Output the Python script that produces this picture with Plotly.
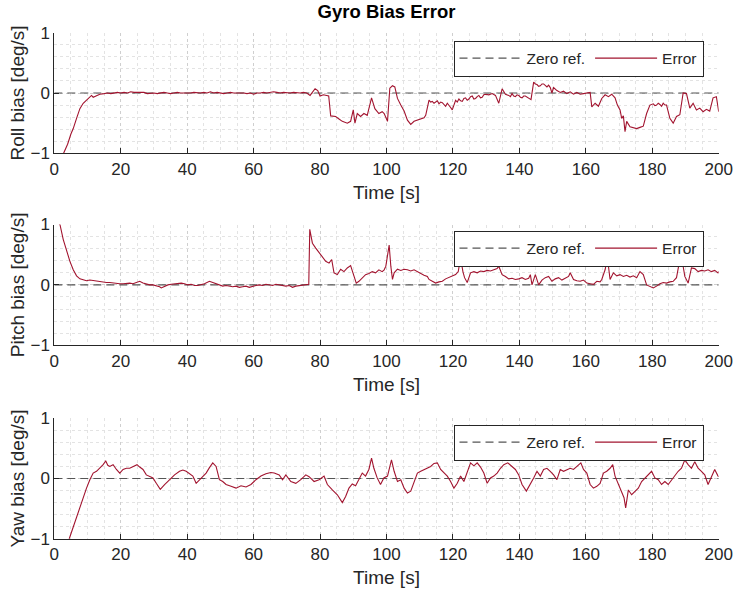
import plotly.graph_objects as go

# ---------------- data ----------------
t_roll = [0, 1, 2, 2.8, 4, 5, 5.7, 6.7, 7.7, 8.7, 9.7, 10.7, 11.2, 11.7, 12.7, 13.7, 15, 16, 17, 18, 19,
          20, 21, 22, 23, 24, 25, 26, 27, 28, 29, 30, 31, 32, 33, 34, 35, 36, 37, 38, 39,
          40, 41, 42, 43, 44, 45, 46, 47, 48, 49, 50, 51, 52, 53, 54, 55, 56, 57, 58, 59,
          60, 61, 62, 63, 64, 65, 66, 67, 68, 69, 70, 71, 72, 73, 74, 75, 76, 77, 77.6, 78.5, 79.3,
          80, 81, 82, 82.6, 83.2, 84.7, 85.7, 86.7, 88.2, 89.2, 90, 90.5, 91.2, 92.2, 93.2, 94.2, 95.5,
          96.5, 97.7, 98.7, 99.3, 100.3, 101, 101.8, 102.5, 103.3, 104.3, 105.3, 106.3, 107.3, 108.3,
          109.3, 110.3, 111.3, 111.8, 112.8, 113.3, 113.8, 114.3, 114.8, 115.3, 115.8, 116.3, 116.8,
          117.3, 117.8, 118.3, 118.8, 119.3, 119.8, 120.3, 120.8, 121.3, 121.8, 122.3, 122.8, 123.3,
          123.8, 124.3, 124.8, 125.3, 125.8, 126.3, 126.8, 127.3, 127.8, 128.3, 128.8, 129.3, 129.8,
          130.8, 131.8, 132.8, 133.8, 134.8, 135.8, 136.8, 137.3, 137.8, 138.3, 138.8, 139.3, 139.8,
          140.3, 140.8, 141.3, 141.8, 142.3, 142.8, 143.5, 144.3, 144.8, 145.3, 145.8, 146.3, 146.8,
          147.3, 147.8, 148.3, 148.8, 149.3, 149.8, 150.3, 151.3, 152.3, 153.3, 154.3, 155.3, 156.3,
          157.3, 158.3, 159.3, 160.3, 161.3, 161.8, 162.8, 163.8, 164.8, 165.8, 166.8, 167.8, 168.8,
          169.5, 170.3, 170.8, 171.3, 171.8, 172.3, 173.3, 174.3, 175.3, 176.3, 177.3, 178.3, 179.3,
          180.3, 180.8, 181.3, 181.8, 182.3, 182.8, 183.3, 183.8, 184.3, 185.3, 186.3, 187.3, 188.3,
          189.3, 190.3, 191.3, 192.3, 193.3, 194.3, 195.3, 196.3, 197.3, 198.3, 199.3, 200]
roll = [-1.6, -1.4, -1.15, -1.0, -0.85, -0.68, -0.59, -0.42, -0.26, -0.17, -0.12, -0.07, -0.04, -0.07, -0.04, -0.02, -0.01, 0.0, -0.01, 0.0, 0.01,
        0.0, 0.01, 0.0, 0.02, 0.01, 0.01, 0.0, 0.01, -0.01, 0.0, 0.0, -0.01, 0.0, 0.01, 0.0, -0.01, 0.0, 0.01, 0.0, 0.0,
        -0.01, 0.0, 0.01, 0.0, 0.0, 0.01, 0.0, 0.02, 0.0, 0.01, 0.0, -0.01, 0.0, 0.01, 0.0, 0.0, 0.01, 0.0, -0.01, 0.0,
        -0.02, 0.0, 0.0, 0.01, 0.0, 0.01, 0.02, 0.01, 0.0, 0.01, 0.0, 0.0, 0.01, 0.0, 0.0, 0.01, 0.0, -0.04, 0.0, 0.07, 0.04,
        -0.05, -0.03, -0.04, -0.05, -0.38, -0.39, -0.43, -0.47, -0.5, -0.47, -0.28, -0.5, -0.34, -0.39, -0.34, -0.37, -0.08,
        -0.26, -0.34, -0.31, -0.34, -0.47, 0.08, 0.12, 0.1, -0.09, -0.2, -0.3, -0.45, -0.52, -0.47,
        -0.45, -0.43, -0.41, -0.37, -0.12, -0.15, -0.14, -0.17, -0.15, -0.13, -0.18, -0.15, -0.16,
        -0.2, -0.22, -0.17, -0.2, -0.24, -0.28, -0.2, -0.12, -0.15, -0.1, -0.13, -0.14, -0.09,
        -0.08, -0.12, -0.1, -0.06, -0.05, -0.1, -0.09, -0.06, -0.04, -0.08, -0.07, -0.03, -0.02,
        -0.03, -0.01, -0.04, -0.17, 0.07, -0.02, -0.04, -0.06, -0.01, -0.05, -0.06, -0.03, -0.04,
        -0.07, -0.08, -0.05, -0.05, -0.07, -0.09, -0.11, 0.18, 0.15, 0.14, 0.11, 0.12, 0.15,
        0.15, 0.12, 0.1, 0.13, 0.09, 0.0, 0.09, 0.04, 0.01, 0.03, -0.01, 0.02, -0.02,
        0.01, -0.02, -0.01, 0.0, 0.01, -0.23, -0.17, -0.22, -0.09, -0.03, -0.06, -0.02, -0.08,
        -0.2, -0.28, -0.42, -0.38, -0.64, -0.47, -0.56, -0.58, -0.59, -0.57, -0.55, -0.34, -0.2,
        -0.18, -0.21, -0.2, -0.17, -0.19, -0.22, -0.17, -0.2, -0.2, -0.42, -0.5, -0.39, -0.36,
        0.0, -0.01, -0.25, -0.17, -0.28, -0.25, -0.31, -0.27, -0.3, -0.08, -0.06, -0.31]

t_pitch = [0, 1, 1.7, 2.7, 3.7, 4.7, 5.7, 6.7, 7.7, 8.7, 9.7, 10.7, 11.7, 12.7, 13.7, 14.7, 15.7, 16.7, 17.7, 18.7, 19.7,
           20.7, 21.7, 22.7, 23.7, 24.7, 25.7, 26.7, 27.7, 28.7, 29.7, 30.7, 31.7, 32.2, 33.2, 34.2, 35.2, 36.2, 37.2,
           38.2, 39.2, 40.2, 41.2, 42.2, 43.2, 44.2, 45.2, 46.7, 47.7, 48.7, 49.7, 50.7, 51.7, 52.7, 53.7, 54.7, 55.7,
           56.7, 57.7, 58.7, 59.7, 60.7, 61.7, 62.7, 63.7, 64.7, 65.7, 66.7, 67.7, 68.7, 69.7, 70.7, 71.7, 72.7, 73.7,
           74.7, 75.7, 76.6, 76.9, 77.7, 78.7, 79.7, 80.7, 81.7, 82.7, 83.5, 84.2, 85.2, 86.2, 87.2, 88.2, 89.2, 89.9,
           90.9, 91.7, 92.7, 93.7, 94.7, 95.7, 96.7, 97.7, 98.7, 99.3, 99.8, 100.3, 100.8, 101.3, 101.8, 102.3, 103.3,
           104.3, 105.3, 106.3, 107.3, 108.3, 109.3, 110.3, 111.3, 112.3, 112.8, 113.8, 114.8, 115.8, 116.8, 117.8,
           118.8, 119.8, 120.8, 121.6, 122.3, 123.0, 123.5, 124.3, 125.3, 126.3, 127.3, 128.3, 129.3, 130.3, 131.3,
           132.3, 133.3, 133.8, 134.8, 135.8, 136.8, 137.8, 138.8, 139.8, 140.8, 141.8, 142.8, 143.3, 143.8, 144.8,
           145.8, 146.8, 147.8, 148.8, 149.8, 150.8, 151.8, 152.8, 153.8, 154.8, 155.3, 156.3, 157.3, 158.3, 159.3,
           160.3, 161.3, 162.3, 163.3, 164.3, 164.8, 165.8, 166.5, 167.3, 168.3, 169.3, 170.3, 171.3, 172.3, 173.3,
           174.3, 175.3, 176.3, 177.3, 178.3, 179.3, 180.3, 181.3, 182.3, 183.3, 184.3, 185.3, 186.3, 187.3, 188.1,
           188.8, 189.8, 190.8, 191.8, 192.8, 193.8, 194.8, 195.8, 196.8, 197.8, 198.8, 199.3, 199.8, 200]
pitch = [1.1, 1.05, 1.0, 0.75, 0.55, 0.39, 0.25, 0.15, 0.1, 0.08, 0.07, 0.08, 0.07, 0.07, 0.06, 0.05, 0.04, 0.04, 0.03, 0.02, 0.02,
         0.02, 0.03, 0.03, 0.02, 0.04, 0.06, 0.03, 0.01, 0.0, 0.0, -0.01, -0.03, -0.05, -0.02, 0.0, 0.01, 0.02, 0.02,
         0.03, 0.02, 0.0, 0.01, -0.01, -0.01, 0.0, 0.02, 0.06, 0.04, 0.02, 0.0, -0.02, -0.01, -0.02, -0.03, -0.02, -0.04,
         -0.03, -0.02, -0.04, -0.02, -0.01, 0.0, -0.01, 0.01, 0.0, -0.01, 0.01, 0.0, -0.01, -0.02, -0.01, -0.04, -0.02, -0.01,
         0.0, 0.0, 0.01, 0.92, 0.69, 0.61, 0.53, 0.46, 0.39, 0.36, 0.42, 0.2, 0.17, 0.26, 0.22, 0.28, 0.32, 0.2,
         0.03, 0.06, 0.12, 0.17, 0.19, 0.22, 0.2, 0.25, 0.22, 0.25, 0.31, 0.47, 0.66, 0.31, 0.09, 0.2, 0.26,
         0.24, 0.26, 0.25, 0.23, 0.25, 0.22, 0.18, 0.16, 0.14, 0.09, 0.06, 0.03, 0.05, 0.06, 0.1,
         0.12, 0.15, 0.17, 0.22, 0.45, 0.22, 0.12, 0.04, 0.2, 0.22, 0.2, 0.23, 0.22, 0.24, 0.23,
         0.25, 0.27, 0.31, 0.17, 0.14, 0.1, 0.11, 0.09, 0.1, 0.12, 0.09, 0.11, 0.17, 0.0, 0.17,
         0.0, 0.08, 0.12, 0.14, 0.06, 0.1, 0.12, 0.08, 0.11, 0.14, 0.2, 0.09, 0.07, 0.06, 0.08,
         0.03, 0.02, 0.01, 0.06, 0.05, 0.09, 0.25, 0.45, 0.09, 0.2, 0.15, 0.17, 0.14, 0.16, 0.13,
         0.15, 0.12, 0.22, 0.17, 0.0, -0.03, -0.05, -0.02, 0.02, 0.04, 0.03, 0.05, 0.06, 0.12, 0.36,
         0.47, 0.14, 0.03, 0.28, 0.27, 0.22, 0.24, 0.23, 0.25, 0.22, 0.24, 0.22, 0.2, 0.22]

t_yaw = [0, 2, 4.5, 5.7, 6.7, 7.7, 8.7, 9.7, 10.7, 11.7, 12.7, 13.7, 14.7, 15.5, 16.1, 16.7, 17.7, 18.7, 19.7,
         20.7, 21.7, 22.7, 23.7, 24.9, 25.7, 26.7, 27.7, 28.7, 29.7, 30.7, 31.9, 33.2, 34.7, 36.2, 37.7, 38.7,
         39.7, 40.7, 41.7, 42.7, 43.7, 44.7, 45.7, 46.7, 47.7, 48.7, 49.7, 50.7, 51.7, 53.2, 54.7, 56.2, 57.7,
         59.2, 60.7, 62.2, 63.7, 65.2, 66.2, 67.7, 68.7, 69.7, 71.2, 72.7, 74.2, 75.7, 76.7, 78.2, 79.7, 81.2,
         82.2, 83.7, 85.2, 86.7, 87.7, 88.7, 89.7, 90.7, 91.7, 92.7, 93.7, 94.7, 95.5, 96.2, 97.2, 98.2, 99.2,
         100.3, 101.5, 102.3, 103.3, 104.3, 105.3, 106.3, 107.3, 108.3, 109.3, 110.3, 111.3, 112.3, 113.3,
         114.3, 115.3, 116.3, 117.3, 118.3, 119.3, 120.3, 121.3, 122.3, 123.3, 124.3, 125.3, 126.3, 127.3,
         128.3, 129.3, 130.3, 131.3, 132.3, 133.3, 134.3, 135.3, 136.5, 137.8, 138.8, 139.8, 140.8, 142.1,
         143.3, 144.3, 145.3, 146.3, 147.3, 148.3, 149.3, 150.3, 151.3, 152.3, 153.3, 154.3, 155.3, 156.3,
         157.3, 158.5, 159.3, 160.3, 161.3, 162.3, 163.3, 164.3, 165.3, 166.3, 167.3, 168.1, 168.8, 169.8,
         170.8, 171.5, 172.0, 172.8, 173.8, 174.8, 175.8, 176.8, 177.8, 178.8, 179.8, 180.8, 181.8, 182.8,
         183.8, 184.8, 185.8, 186.8, 187.8, 188.8, 189.8, 190.8, 191.8, 192.8, 193.8, 194.8, 195.8, 196.8,
         197.8, 198.8, 199.8, 200]
yaw = [-1.6, -1.35, -1.0, -0.8, -0.63, -0.46, -0.3, -0.16, -0.02, 0.09, 0.12, 0.17, 0.23, 0.29, 0.22, 0.2, 0.23, 0.15, 0.09,
       0.15, 0.17, 0.17, 0.2, 0.23, 0.19, 0.15, 0.06, 0.04, 0.01, -0.08, -0.18, -0.1, -0.02, 0.06, 0.12, 0.14,
       0.12, 0.08, 0.04, -0.08, -0.02, 0.04, 0.09, 0.18, 0.26, 0.2, -0.02, -0.05, -0.1, -0.13, -0.16, -0.12, -0.14,
       -0.1, -0.02, 0.04, 0.08, 0.1, 0.09, 0.06, -0.02, 0.06, -0.05, -0.08, -0.02, 0.06, 0.03, -0.05, -0.02, 0.04,
       -0.1, -0.19, -0.27, -0.4, -0.3, -0.16, -0.09, -0.12, -0.02, 0.09, 0.04, 0.15, 0.34, 0.17, 0.01, -0.1, 0.01,
       0.04, 0.31, 0.12, -0.05, -0.02, -0.16, -0.24, -0.21, -0.05, 0.09, 0.12, 0.15, 0.17, 0.2,
       0.25, 0.26, 0.15, 0.09, 0.04, -0.05, -0.16, -0.08, 0.04, -0.05, 0.09, 0.26, 0.21, 0.26,
       0.19, 0.09, -0.08, 0.01, 0.04, 0.09, 0.17, 0.23, 0.26, 0.2, 0.15, 0.06, -0.1, -0.21,
       -0.1, 0.01, 0.12, 0.04, 0.15, 0.17, 0.12, 0.06, -0.02, 0.15, 0.12, 0.14, 0.17, 0.15,
       0.2, 0.26, 0.15, 0.09, -0.1, -0.16, -0.13, -0.08, 0.09, 0.12, 0.17, 0.23, 0.04, -0.1,
       -0.24, -0.32, -0.49, -0.19, -0.27, -0.21, -0.16, -0.05, 0.01, 0.06, 0.12, 0.01, -0.02, -0.1,
       -0.05, -0.1, -0.02, 0.04, 0.12, 0.17, 0.31, 0.23, 0.17, 0.28, 0.17, 0.12, 0.06, -0.1,
       0.04, 0.15, 0.04, 0.03]

zero_t = [0, 200]
zero_v = [0, 0]

panels = [
    ("Roll bias [deg/s]", t_roll, roll),
    ("Pitch bias [deg/s]", t_pitch, pitch),
    ("Yaw bias [deg/s]", t_yaw, yaw),
]

# ---------------- layout helpers ----------------
W, H = 737, 594
x_left, x_right = 54.3, 718.7
panel_px = [(32.7, 153.3), (224.5, 345.3), (418.3, 538.7)]
legend_top_px = [40.5, 230.5, 424.5]
legend_right_px = 703.5

FONT = "Liberation Sans, Arial, Helvetica, sans-serif"
TXT = "#262626"
ERR_COLOR = "#A2142F"
REF_COLOR = "#555555"

fig = go.Figure()
layout = dict(
    width=W, height=H,
    margin=dict(l=0, r=0, t=0, b=0),
    paper_bgcolor="white", plot_bgcolor="white",
    font=dict(family=FONT, color=TXT, size=17),
    title=dict(text="<b>Gyro Bias Error</b>", x=(x_left + x_right) / 2 / W, xanchor="center",
               y=1 - 12.0 / H, yanchor="middle", font=dict(size=18.5, color="#000000", family=FONT)),
)

for i, (ylab, tt, vv) in enumerate(panels):
    n = "" if i == 0 else str(i + 1)
    lg = "legend" if i == 0 else "legend" + str(i + 1)
    fig.add_trace(go.Scatter(x=zero_t, y=zero_v, mode="lines", name="Zero ref.",
                             line=dict(color=REF_COLOR, width=1.2, dash="8px,5px"),
                             xaxis="x" + n, yaxis="y" + n, legend=lg))
    fig.add_trace(go.Scatter(x=tt, y=vv, mode="lines", name="Error",
                             line=dict(color=ERR_COLOR, width=1.1),
                             xaxis="x" + n, yaxis="y" + n, legend=lg))
    top, bot = panel_px[i]
    common = dict(
        showline=True, linecolor=TXT, linewidth=1, mirror=False,
        ticks="inside", ticklen=5, tickcolor=TXT, tickwidth=1,
        showgrid=True, gridcolor="#cfcfcf", griddash="dot", gridwidth=1,
        zeroline=False, automargin=False,
        tickfont=dict(size=17, color=TXT, family=FONT),
    )
    layout["xaxis" + n] = dict(
        common, domain=[x_left / W, x_right / W], anchor="y" + n,
        range=[0, 200], tick0=0, dtick=20,
        minor=dict(dtick=5, showgrid=True, gridcolor="#e3e3e3", griddash="dot", ticks=""),
        title=dict(text="Time [s]", font=dict(size=19, color=TXT, family=FONT), standoff=7),
    )
    layout["yaxis" + n] = dict(
        common, domain=[1 - bot / H, 1 - top / H], anchor="x" + n,
        range=[-1, 1], tick0=-1, dtick=1,
        minor=dict(dtick=0.2, showgrid=True, gridcolor="#e3e3e3", griddash="dot", ticks=""),
        title=dict(text=ylab, font=dict(size=19, color=TXT, family=FONT), standoff=0),
    )
    layout[lg] = dict(
        orientation="h", x=legend_right_px / W, xanchor="right",
        y=1 - legend_top_px[i] / H, yanchor="top",
        bgcolor="white", bordercolor=TXT, borderwidth=1,
        font=dict(size=15.5, color=TXT, family=FONT),
        itemwidth=62, tracegroupgap=0, traceorder="normal",
    )

fig.update_layout(**layout)
fig.write_html("out.html")
